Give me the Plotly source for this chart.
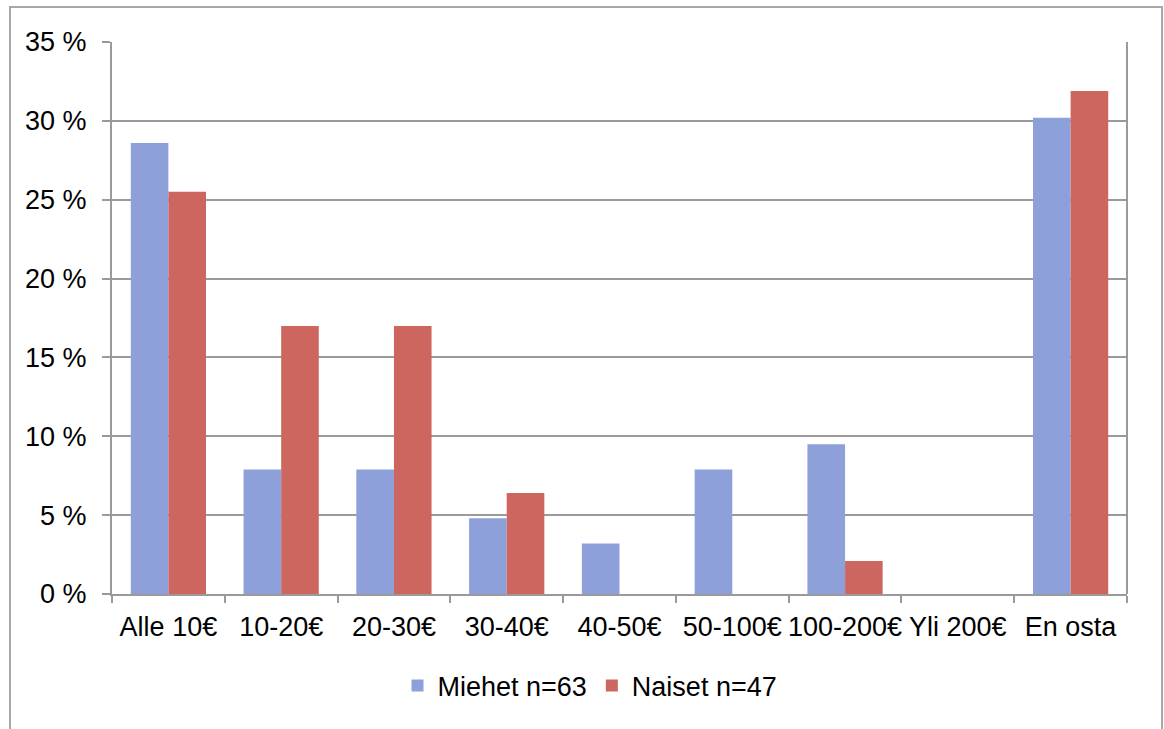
import plotly.graph_objects as go

categories = ["Alle 10€", "10-20€", "20-30€", "30-40€", "40-50€",
              "50-100€", "100-200€", "Yli 200€", "En osta"]
miehet = [28.6, 7.9, 7.9, 4.8, 3.2, 7.9, 9.5, 0.0, 30.2]
naiset = [25.5, 17.0, 17.0, 6.4, 0.0, 0.0, 2.1, 0.0, 31.9]
y_ticks = [0, 5, 10, 15, 20, 25, 30, 35]
y_tick_labels = [f"{v} %" for v in y_ticks]

BLUE = "#8EA0DA"
RED = "#CD665F"
GRID = "#9a9a9a"
FONT = dict(family="Liberation Sans, Arial, sans-serif", size=27, color="#000000")

fig = go.Figure()
fig.add_trace(go.Bar(x=categories, y=miehet, name="Miehet n=63",
                     marker=dict(color=BLUE, line=dict(width=0))))
fig.add_trace(go.Bar(x=categories, y=naiset, name="Naiset n=47",
                     marker=dict(color=RED, line=dict(width=0))))

L, R, T, B = 112, 37, 42, 135
W, H = 1164, 729
pw, ph = W - L - R, H - T - B

# outer chart frame
fig.add_shape(type="rect", xref="paper", yref="paper",
              x0=(10 - L) / pw, x1=(1162 - L) / pw,
              y0=-0.5, y1=(H - B - 7) / ph,
              line=dict(color="#a8a8a8", width=2), layer="below")

fig.update_layout(
    width=W, height=H,
    margin=dict(l=L, r=R, t=T, b=B, pad=0, autoexpand=False),
    paper_bgcolor="white", plot_bgcolor="white",
    font=FONT,
    barmode="group", bargap=0.333, bargroupgap=0,
    showlegend=True,
    legend=dict(orientation="h", xanchor="center", yanchor="middle",
                x=(590 - L) / pw, y=(H - B - 686) / ph,
                font=FONT, itemwidth=30, bgcolor="rgba(0,0,0,0)"),
    xaxis=dict(type="category", tickson="boundaries", ticks="outside",
               ticklen=7, tickwidth=2, tickcolor=GRID, tickangle=0,
               showline=True, linecolor=GRID, linewidth=2,
               showgrid=False, tickfont=FONT, ticklabelstandoff=8,
               automargin=False),
    yaxis=dict(range=[0, 35], tickmode="array", tickvals=y_ticks,
               ticktext=y_tick_labels,
               ticks="outside", ticklen=8, tickwidth=2, tickcolor=GRID,
               showline=True, linecolor=GRID, linewidth=2,
               showgrid=True, gridcolor=GRID, gridwidth=2,
               zeroline=False, tickfont=FONT, ticklabelstandoff=10,
               automargin=False),
)
# right edge of plot area
fig.add_shape(type="line", xref="paper", yref="paper", x0=1, x1=1, y0=0, y1=1,
              line=dict(color=GRID, width=2))

fig.write_html("out.html")
